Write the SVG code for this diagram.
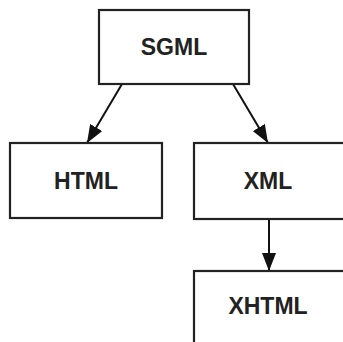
<svg xmlns="http://www.w3.org/2000/svg" width="343" height="342" viewBox="0 0 343 342">
<style>
.box{fill:#fff;stroke:#222;stroke-width:2.2}
.lbl{font-family:"Liberation Sans",Arial,sans-serif;font-weight:bold;font-size:23px;fill:#222;text-anchor:middle}
.edge{stroke:#111;stroke-width:2;fill:none;marker-end:url(#ah)}
</style>
<defs>
<marker id="ah" markerUnits="userSpaceOnUse" markerWidth="18" markerHeight="14" viewBox="0 0 18 14" refX="18" refY="7" orient="auto">
<path d="M0,0 L18,7 L0,14 z" fill="#111"/>
</marker>
</defs>
<rect width="343" height="342" fill="#fff"/>
<g id="connectors">
<line class="edge" x1="122" y1="84" x2="87" y2="143"/>
<line class="edge" x1="233" y1="84" x2="268" y2="143"/>
<line class="edge" x1="269" y1="219" x2="269" y2="271"/>
</g>
<g id="SGML">
<rect class="box" x="99" y="10" width="150" height="74"/>
<text class="lbl" x="174" y="55">SGML</text>
</g>
<g id="HTML">
<rect class="box" x="10" y="143" width="152" height="75"/>
<text class="lbl" x="86" y="189">HTML</text>
</g>
<g id="XML">
<rect class="box" x="194" y="143" width="152" height="76"/>
<text class="lbl" x="268" y="189">XML</text>
</g>
<g id="XHTML">
<rect class="box" x="194" y="271" width="152" height="80"/>
<text class="lbl" x="268" y="314">XHTML</text>
</g>
</svg>
